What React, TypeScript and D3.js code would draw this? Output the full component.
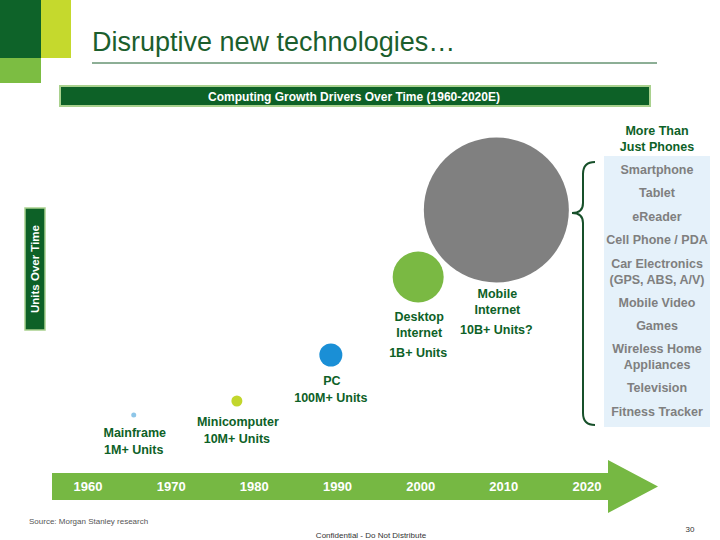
import React from "react";
import * as d3 from "d3";

// ---- data ----
const eras = ["Mainframe", "Minicomputer", "PC", "Desktop Internet", "Mobile Internet"];
const eraNameLines = [["Mainframe"], ["Minicomputer"], ["PC"], ["Desktop", "Internet"], ["Mobile", "Internet"]];
const eraUnits = ["1M+ Units", "10M+ Units", "100M+ Units", "1B+ Units", "10B+ Units?"];
const eraYear = [1965.5, 1977.9, 1989.2, 1999.7, 2009.1];
const eraLevel = [58, 72, 118, 196, 263];
const eraSize = [2.5, 5.5, 11.5, 25.5, 72.5];
const eraColor = ["#8ec6e8", "#c2d62c", "#1a8fd6", "#7ab943", "#808080"];
const yearTicks = [1960, 1970, 1980, 1990, 2000, 2010, 2020];
const deviceLines = [
  ["Smartphone"], ["Tablet"], ["eReader"], ["Cell Phone / PDA"],
  ["Car Electronics", "(GPS, ABS, A/V)"], ["Mobile Video"], ["Games"],
  ["Wireless Home", "Appliances"], ["Television"], ["Fitness Tracker"],
];
const deviceY = [169, 192, 216, 239, 263, 302, 325, 348, 387, 411];

const DARK = "#0d6127";
const FONT = "'Liberation Sans', Arial, sans-serif";

export default function App() {
  const x = d3.scaleLinear().domain([1960, 2020]).range([88, 587]);
  const y = d3.scaleLinear().domain([0, 300]).range([473, 173]);
  const r = d3.scaleLinear().domain([0, 100]).range([0, 100]);

  // brace path
  const bx = 583, top = 162, bot = 425, mid = 213, tip = 572;
  const brace = d3.path();
  brace.moveTo(bx + 12, top);
  brace.quadraticCurveTo(bx, top, bx, top + 12);
  brace.lineTo(bx, mid - 10);
  brace.quadraticCurveTo(bx, mid, tip, mid);
  brace.quadraticCurveTo(bx, mid, bx, mid + 10);
  brace.lineTo(bx, bot - 12);
  brace.quadraticCurveTo(bx, bot, bx + 12, bot);

  const arrowBody = [[52, 473], [608, 473], [608, 460], [658, 486.5], [608, 513], [608, 500], [52, 500]];

  return (
    <svg width={720} height={540} style={{ position: "absolute", left: 0, top: 0, fontFamily: FONT }}>
      <rect width={720} height={540} fill="#ffffff" />
      {/* corner decoration */}
      <rect x={0} y={0} width={41} height={58} fill="#0e6329" />
      <rect x={41} y={0} width={30} height={58} fill="#c5d92d" />
      <rect x={0} y={58} width={41} height={25} fill="#7cbd42" />
      {/* title */}
      <text x={92} y={51} fontSize={27} fill="#1b5e2d">Disruptive new technologies…</text>
      <line x1={92} x2={657} y1={63} y2={63} stroke="#1b5e2d" strokeWidth={1} />
      {/* header bar */}
      <rect x={60} y={86} width={590} height={20} fill={DARK} stroke="#a9d18e" strokeWidth={2} />
      <text x={354} y={100.5} fontSize={12} fontWeight="bold" fill="#fff" textAnchor="middle">
        Computing Growth Drivers Over Time  (1960-2020E)
      </text>
      {/* vertical label */}
      <rect x={25} y={208} width={20} height={122} fill={DARK} stroke="#a9d18e" strokeWidth={1.5} />
      <text transform="translate(39,269) rotate(-90)" fontSize={11.5} fontWeight="bold" fill="#fff" textAnchor="middle">
        Units Over Time
      </text>
      {/* timeline arrow */}
      <path d={d3.line()(arrowBody as [number, number][]) + "Z"} fill="#76b843" />
      {yearTicks.map((t) => (
        <text key={t} x={x(t)} y={491} fontSize={13} fontWeight="bold" fill="#fff" textAnchor="middle">
          {t}
        </text>
      ))}
      {/* bubbles */}
      {eras.map((e, i) => {
        const cx = x(eraYear[i]);
        const cy = y(eraLevel[i]);
        const rr = r(eraSize[i]);
        const l0 = cy + rr + 15 - rr * 0.05;
        const names = eraNameLines[i];
        const unitsY = l0 + (names.length - 1) * 16 + (names.length > 1 ? 20 : 17);
        return (
          <g key={e}>
            <circle cx={cx} cy={cy} r={rr} fill={eraColor[i]} />
            {names.map((n, j) => (
              <text key={n} x={cx + 1} y={l0 + j * 16 + 4.5} fontSize={12.5} fontWeight="bold" fill={DARK} textAnchor="middle">
                {n}
              </text>
            ))}
            <text x={cx} y={unitsY + 4.5} fontSize={12.5} fontWeight="bold" fill={DARK} textAnchor="middle">
              {eraUnits[i]}
            </text>
          </g>
        );
      })}
      {/* right panel */}
      <text x={657} y={134.5} fontSize={12.5} fontWeight="bold" fill={DARK} textAnchor="middle">More Than</text>
      <text x={657} y={150.5} fontSize={12.5} fontWeight="bold" fill={DARK} textAnchor="middle">Just Phones</text>
      <rect x={604} y={156} width={106} height={271} fill="#e5f1fa" />
      {deviceLines.map((lines, i) =>
        lines.map((l, j) => (
          <text key={l} x={657} y={deviceY[i] + j * 16 + 4.5} fontSize={12.5} fontWeight="bold" fill="#7f7f7f" textAnchor="middle">
            {l}
          </text>
        ))
      )}
      <path d={brace.toString()} fill="none" stroke="#17502a" strokeWidth={2} />
      {/* footer */}
      <text x={29} y={524} fontSize={8} fill="#555">Source: Morgan Stanley research</text>
      <text x={371} y={538} fontSize={8} fill="#333" textAnchor="middle">Confidential - Do Not Distribute</text>
      <text x={690} y={532} fontSize={8} fill="#333" textAnchor="middle">30</text>
    </svg>
  );
}
